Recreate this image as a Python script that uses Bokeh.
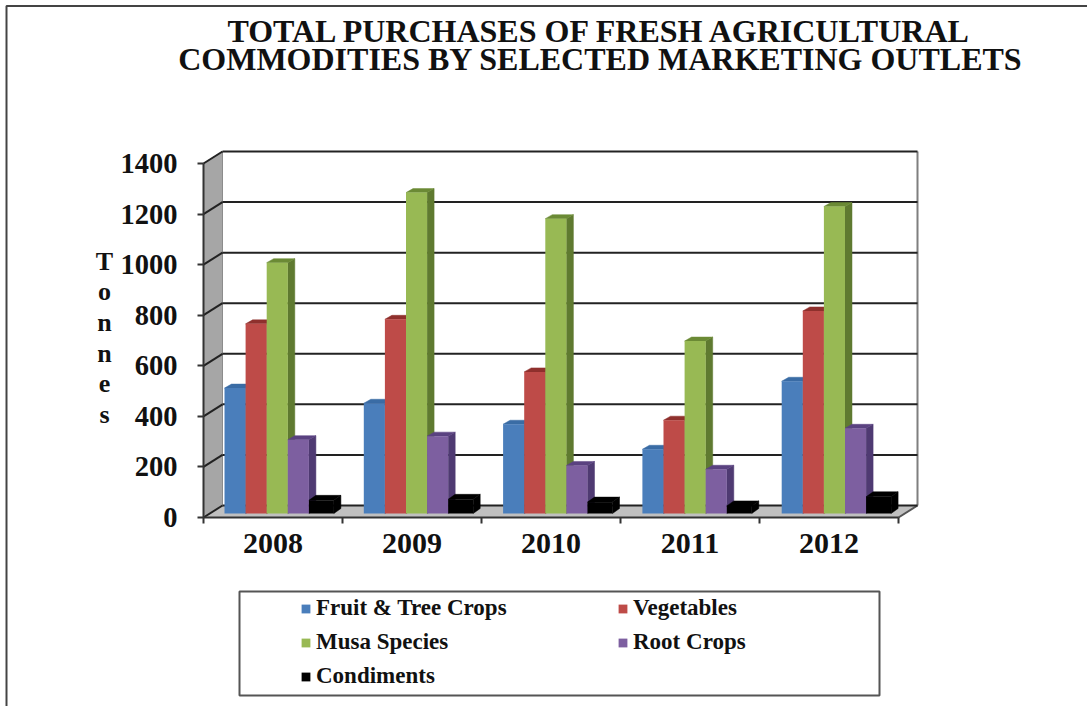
from bokeh.plotting import figure
from bokeh.models import Legend, LegendItem, LinearAxis, FixedTicker, Label, BoxAnnotation, Range1d
from bokeh.embed import file_html
from bokeh.resources import INLINE

years = ["2008", "2009", "2010", "2011", "2012"]
series_names = ["Fruit & Tree Crops", "Vegetables", "Musa Species", "Root Crops", "Condiments"]
fruit = [496, 436, 353, 254, 523]
vegetables = [750, 768, 560, 369, 801]
musa = [992, 1269, 1166, 682, 1214]
root = [292, 306, 190, 175, 337]
condiments = [52, 56, 45, 30, 66]
series_values = [fruit, vegetables, musa, root, condiments]
front_colors = ["#4A7EBB", "#BE4B48", "#98B954", "#7D5FA0", "#000000"]
side_colors = ["#2F5A8C", "#8C2F2C", "#5F7A30", "#4F3A72", "#000000"]
top_colors = ["#3A6CA5", "#8F302D", "#6B8A35", "#5A4280", "#000000"]
y_ticks = [0, 200, 400, 600, 800, 1000, 1200, 1400]

FONT = "Liberation Serif"
W, H = 1087, 706
OX, OY = 0, 0           # page offset of the canvas
PX_X = 139.0            # px per category
PX_Y = 354.0 / 1400     # px per tonne
def dx(px): return px / PX_X
def dy(px): return px / PX_Y
def sx(px): return (px - 203) / PX_X   # page px -> data
def sy(px): return (517 - px) / PX_Y

p = figure(width=W, height=H, output_backend="svg", toolbar_location=None,
           x_range=Range1d(sx(OX), sx(OX + W)), y_range=Range1d(sy(OY + H), sy(OY)),
           x_axis_location=None, y_axis_location=None, min_border=0,
           outline_line_color=None, background_fill_color="white", border_fill_color="white")
p.grid.visible = False

# walls
back_x, back_y = dx(19), dy(12)
x_end = len(years)
p.patch([0, back_x, back_x, 0], [0, back_y, 1400 + back_y, 1400], fill_color="#A6A6A6", line_color="#8C8C8C")
p.patch([0, back_x, x_end + back_x, x_end], [0, back_y, back_y, 0], fill_color="#C0C0C0", line_color="#A0A0A0")
p.segment([x_end + back_x], [back_y], [x_end + back_x], [1400 + back_y], line_color="#7F7F7F", line_width=2)
p.segment([x_end], [0], [x_end + back_x], [back_y], line_color="#555555", line_width=2)
p.segment([back_x] * 8, [t + back_y for t in y_ticks], [x_end + back_x] * 8, [t + back_y for t in y_ticks],
          line_color="#222222", line_width=2)
p.segment([0] * 8, y_ticks, [back_x] * 8, [t + back_y for t in y_ticks], line_color="#222222", line_width=2)

# bars
bar_w = dx(21.1)
depth_x, depth_y = dx(7), dy(4)
base = dy(4)
group_off = dx(21)
legend_items = []
for j, (name, vals) in enumerate(zip(series_names, series_values)):
    w = dx(25) if j == 4 else bar_w
    ddx = dx(7) if j == 4 else depth_x
    ddy = dy(5) if j == 4 else depth_y
    lefts = [i + group_off + j * bar_w + dx(0.3) * i for i in range(5)]
    side_xs, side_ys, top_xs, top_ys = [], [], [], []
    for l, v in zip(lefts, vals):
        side_xs.append([l + w, l + w + ddx, l + w + ddx, l + w])
        side_ys.append([base, base + ddy, base + v + ddy, base + v])
        top_xs.append([l, l + ddx, l + w + ddx, l + w])
        top_ys.append([base + v, base + v + ddy, base + v + ddy, base + v])
    p.patches(side_xs, side_ys, fill_color=side_colors[j], line_color=side_colors[j], line_width=0.5)
    p.patches(top_xs, top_ys, fill_color=top_colors[j], line_color=top_colors[j], line_width=0.5)
    r = p.vbar(x=[l + w / 2 for l in lefts], width=w, bottom=base, top=[base + v for v in vals],
               fill_color=front_colors[j], line_color=None)
    legend_items.append(LegendItem(label=name, renderers=[r]))

# axes
yaxis = LinearAxis(ticker=FixedTicker(ticks=y_ticks), bounds=(0, 1400), fixed_location=0,
                   major_label_text_font=FONT, major_label_text_font_style="bold",
                   major_label_text_font_size="28.5px", major_label_text_color="#111111",
                   major_tick_out=6, major_tick_in=0, major_tick_line_color="#333333", major_tick_line_width=2,
                   axis_line_color="#333333", axis_line_width=2, major_label_standoff=20)
p.add_layout(yaxis, "left")
xaxis = LinearAxis(ticker=FixedTicker(ticks=[i + 0.5 for i in range(5)], minor_ticks=list(range(6))),
                   bounds=(0, 5), fixed_location=0,
                   major_label_overrides={i + 0.5: y for i, y in enumerate(years)},
                   major_label_text_font=FONT, major_label_text_font_style="bold",
                   major_label_text_font_size="30px", major_label_text_color="#111111",
                   major_tick_out=0, major_tick_in=0, minor_tick_out=6, minor_tick_in=0,
                   minor_tick_line_color="#333333", minor_tick_line_width=2,
                   axis_line_color="#333333", axis_line_width=2, major_label_standoff=10)
p.add_layout(xaxis, "below")

# title
p.add_layout(Label(x=sx(600), y=sy(12.5), text="TOTAL PURCHASES OF FRESH AGRICULTURAL\nCOMMODITIES BY SELECTED MARKETING OUTLETS",
                   text_font=FONT, text_font_style="bold", text_font_size="32px", text_color="#111111",
                   text_align="center", text_baseline="top", text_line_height=0.79))

# y label
p.add_layout(Label(x=sx(104), y=sy(246), text="T\no\nn\nn\ne\ns", text_font=FONT, text_font_style="bold",
                   text_font_size="26px", text_color="#111111", text_align="center", text_baseline="top",
                   text_line_height=1.06))

# legend
p.add_layout(BoxAnnotation(left=sx(239), right=sx(879), top=sy(591), bottom=sy(695), fill_alpha=0,
                           line_color="#555555", line_alpha=1, line_width=2))
legend = Legend(items=legend_items, ncols=2, orientation="horizontal",
                location=(300 - OX, H - (689 - OY)),
                padding=0, margin=0, border_line_alpha=0, background_fill_alpha=0,
                glyph_width=11, glyph_height=11, label_standoff=5, label_width=293, label_height=20, spacing=8,
                label_text_font=FONT, label_text_font_style="bold", label_text_font_size="23px",
                label_text_color="#111111")
p.add_layout(legend, "center")

# page frame
p.add_layout(BoxAnnotation(left=sx(6), right=sx(1300), top=sy(5.5), bottom=sy(900), fill_alpha=0,
                           line_color="#444444", line_alpha=1, line_width=2))

open("out.html", "w").write(file_html(p, INLINE))
